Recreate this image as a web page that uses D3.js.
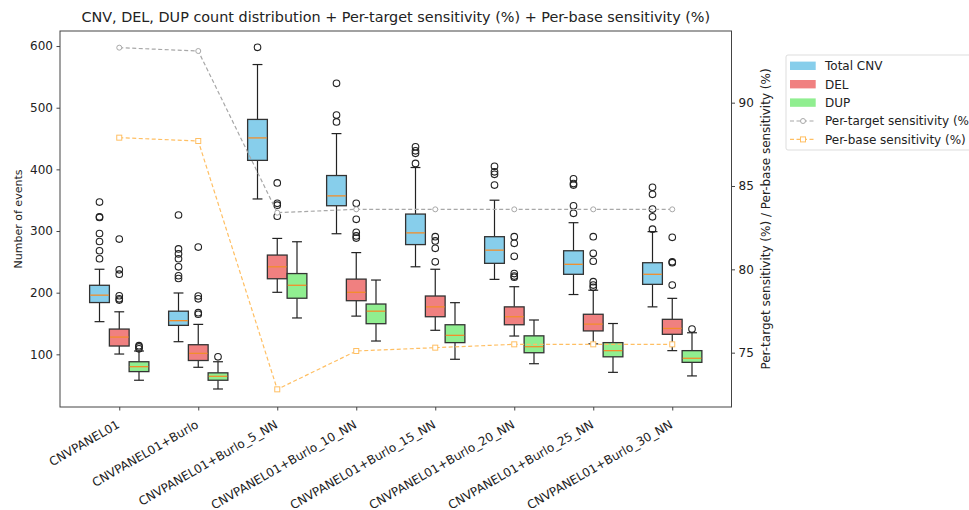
<!DOCTYPE html>
<html>
<head>
<meta charset="utf-8">
<script src="https://cdn.jsdelivr.net/npm/d3@7/dist/d3.min.js"></script>
<style>
  html, body { margin: 0; padding: 0; background: #fff; }
  svg { display: block; font-family: "DejaVu Sans", sans-serif; }
</style>
</head>
<body>
<svg id="chart" width="969" height="510"></svg>
<script>
const categories = ["CNVPANEL01", "CNVPANEL01+Burlo", "CNVPANEL01+Burlo_5_NN", "CNVPANEL01+Burlo_10_NN",
  "CNVPANEL01+Burlo_15_NN", "CNVPANEL01+Burlo_20_NN", "CNVPANEL01+Burlo_25_NN", "CNVPANEL01+Burlo_30_NN"];

// box stats: [whiskerLow, Q1, median, Q3, whiskerHigh]
const totalStats = [
  [153, 184, 196, 212, 238], [120.5, 147, 154.6, 170, 199.5], [352, 414.6, 451, 481, 570],
  [295.6, 341, 357, 390, 458], [242, 278, 297, 327.5, 403], [221.6, 247.6, 269, 290.8, 350],
  [197, 229.8, 246, 268, 313.5], [177, 213.5, 229.8, 248.6, 299]];
const totalOutliers = [
  [255, 268, 283, 296, 322, 323, 347], [223, 227.5, 242, 255, 263, 271, 326], [598],
  [477, 488, 539.5], [409.7, 426, 430, 436.7], [374.6, 392, 396, 405],
  [328.7, 341, 374.6, 377, 384.8], [303, 323, 335.6, 359.5, 370.8]];

const delStats = [
  [100.5, 113.5, 128, 141, 169], [79, 90, 101.6, 115.6, 148.6], [200.6, 222.6, 242, 261, 288],
  [162, 187, 200.6, 222, 265], [139, 161, 177, 194.6, 238], [129.7, 148, 161, 177, 209.7],
  [117, 138, 149, 165, 204], [106, 132.5, 142, 156.8, 190.8]];
const delOutliers = [
  [188, 190, 195, 230, 237, 287], [165, 167.5, 190, 194.6, 274], [324, 342, 345, 378],
  [288.6, 292, 298, 319, 345], [250, 272, 284, 290.8], [225, 227, 231, 259, 280, 290.8],
  [208.7, 212.4, 217.8, 251, 263.8, 290.8], [212.4, 248.6, 250, 289.7]];

const dupStats = [
  [58, 72, 80, 88, 105.4], [43.8, 58, 64.4, 70, 88], [159, 191, 212, 231, 282.6],
  [121.6, 149.7, 170, 181.6, 220.5], [92, 119, 130.8, 148, 183.8], [84.8, 102.6, 112.4, 130, 155.7],
  [70.8, 96, 106, 119, 150], [65, 87, 93.6, 106, 135]];
const dupOutliers = [[109, 112, 114], [96], [], [], [], [], [], [141]];

const perTarget = [93.3, 93.1, 83.4, 83.6, 83.6, 83.6, 83.6, 83.6];
const perBase = [87.9, 87.7, 72.8, 75.1, 75.3, 75.5, 75.5, 75.5];

const leftTicks = [100, 200, 300, 400, 500, 600];
const rightTicks = [75, 80, 85, 90];

const seriesNames = ["Total CNV", "DEL", "DUP"];
const seriesColors = ["#87CEEB", "#F08080", "#90EE90"];
const lineNames = ["Per-target sensitivity (%)", "Per-base sensitivity (%)"];

// ---------- layout ----------
const svg = d3.select("#chart");
svg.append("rect").attr("width", 969).attr("height", 510).attr("fill", "#fff");
const L = 60, R = 731.5, T = 31, B = 407;
const textColor = "#222";
const spineColor = "#444";

const x = d3.scaleLinear().domain([0.25, 8.75]).range([L, R]);
const y = d3.scaleLinear().domain([14.6, 624.4]).range([B, T]);
const y2 = d3.scaleLinear().domain([71.74, 94.3]).range([B, T]);

const boxW = 0.25;
const offsets = [-0.25, 0, 0.25];
const allStats = [totalStats, delStats, dupStats];
const allOut = [totalOutliers, delOutliers, dupOutliers];

const plot = svg.append("g");

allStats.forEach((stats, s) => {
  stats.forEach((st, i) => {
    const cx = x(i + 1 + offsets[s]);
    const hw = (x(boxW) - x(0)) / 2;
    const cw = hw / 2;
    const g = plot.append("g");
    const [lo, q1, med, q3, hi] = st;
    g.append("line").attr("x1", cx).attr("x2", cx).attr("y1", y(q3)).attr("y2", y(hi))
      .attr("stroke", "#222").attr("stroke-width", 1.2);
    g.append("line").attr("x1", cx).attr("x2", cx).attr("y1", y(q1)).attr("y2", y(lo))
      .attr("stroke", "#222").attr("stroke-width", 1.2);
    [lo, hi].forEach(v => g.append("line").attr("x1", cx - cw).attr("x2", cx + cw)
      .attr("y1", y(v)).attr("y2", y(v)).attr("stroke", "#222").attr("stroke-width", 1.2));
    g.append("rect").attr("x", cx - hw).attr("width", 2 * hw)
      .attr("y", y(q3)).attr("height", y(q1) - y(q3))
      .attr("fill", seriesColors[s]).attr("stroke", "#333").attr("stroke-width", 1.3);
    g.append("line").attr("x1", cx - hw + 0.6).attr("x2", cx + hw - 0.6)
      .attr("y1", y(med)).attr("y2", y(med)).attr("stroke", "#F28E2B").attr("stroke-width", 1.3);
    allOut[s][i].forEach(v => g.append("circle").attr("cx", cx).attr("cy", y(v)).attr("r", 3.3)
      .attr("fill", "none").attr("stroke", "#222").attr("stroke-width", 1.1));
  });
});

// sensitivity lines
const lineGen = d3.line().x((d, i) => x(i + 1)).y(d => y2(d));
const gray = "#A8A8A8", orange = "#FFBF63";
plot.append("path").datum(perTarget).attr("d", lineGen).attr("fill", "none")
  .attr("stroke", gray).attr("stroke-width", 1.2).attr("stroke-dasharray", "4,2.5");
plot.selectAll(".pt").data(perTarget).enter().append("circle")
  .attr("cx", (d, i) => x(i + 1)).attr("cy", d => y2(d)).attr("r", 2.5)
  .attr("fill", "#fff").attr("stroke", gray).attr("stroke-width", 1);
plot.append("path").datum(perBase).attr("d", lineGen).attr("fill", "none")
  .attr("stroke", orange).attr("stroke-width", 1.2).attr("stroke-dasharray", "4,2.5");
plot.selectAll(".pb").data(perBase).enter().append("rect")
  .attr("x", (d, i) => x(i + 1) - 2.5).attr("y", d => y2(d) - 2.5)
  .attr("width", 5).attr("height", 5)
  .attr("fill", "#fff").attr("stroke", orange).attr("stroke-width", 1);

// frame
svg.append("rect").attr("x", L).attr("y", T).attr("width", R - L).attr("height", B - T)
  .attr("fill", "none").attr("stroke", spineColor).attr("stroke-width", 1);

// axes
const leftAxis = d3.axisLeft(y).tickValues(leftTicks).tickSize(3.5).tickPadding(3.5).tickFormat(d3.format("d"));
const gl = svg.append("g").attr("transform", `translate(${L},0)`).call(leftAxis);
const rightAxis = d3.axisRight(y2).tickValues(rightTicks).tickSize(3.5).tickPadding(3.5).tickFormat(d3.format("d"));
const gr = svg.append("g").attr("transform", `translate(${R},0)`).call(rightAxis);
const bottomAxis = d3.axisBottom(x).tickValues(d3.range(1, 9)).tickSize(3.5).tickFormat("");
const gb = svg.append("g").attr("transform", `translate(0,${B})`).call(bottomAxis);
[gl, gr, gb].forEach(g => {
  g.select(".domain").remove();
  g.selectAll(".tick line").attr("stroke", spineColor);
  g.selectAll(".tick text").attr("fill", textColor).style("font-size", "12px")
    .style("font-family", "DejaVu Sans");
});

// rotated category labels
svg.append("g").selectAll("text").data(categories).enter().append("text")
  .attr("transform", (d, i) => `translate(${x(i + 1) + 1.2},${B + 20}) rotate(-30)`)
  .attr("text-anchor", "end")
  .attr("fill", textColor).style("font-size", "12px").text(d => d);

// axis labels
svg.append("text").attr("transform", `translate(21.5,${(T + B) / 2}) rotate(-90)`)
  .attr("text-anchor", "middle").attr("fill", textColor).style("font-size", "11px").text("Number of events");
svg.append("text").attr("transform", `translate(769.5,${(T + B) / 2}) rotate(-90)`)
  .attr("text-anchor", "middle").attr("fill", textColor).style("font-size", "12px")
  .text("Per-target sensitivity (%) / Per-base sensitivity (%)");

// title
svg.append("text").attr("x", (L + R) / 2).attr("y", 22).attr("text-anchor", "middle")
  .attr("fill", textColor).style("font-size", "14.4px")
  .text("CNV, DEL, DUP count distribution + Per-target sensitivity (%) + Per-base sensitivity (%)");

// legend
const lg = svg.append("g").attr("transform", "translate(786,55)");
lg.append("rect").attr("x", 0).attr("y", 0).attr("width", 220).attr("height", 95).attr("rx", 2)
  .attr("fill", "#fff").attr("stroke", "#ddd").attr("stroke-width", 1);
const rowY = [10.8, 29.2, 47.6, 66, 84.4];
seriesNames.forEach((n, i) => {
  lg.append("rect").attr("x", 4).attr("y", rowY[i] - 4.2).attr("width", 25.7).attr("height", 8.4)
    .attr("fill", seriesColors[i]);
  lg.append("text").attr("x", 39).attr("y", rowY[i]).attr("dy", "0.36em")
    .attr("fill", textColor).style("font-size", "12px").text(n);
});
lineNames.forEach((n, j) => {
  const ry = rowY[3 + j];
  const col = j === 0 ? gray : orange;
  lg.append("line").attr("x1", 4).attr("x2", 29.7).attr("y1", ry).attr("y2", ry)
    .attr("stroke", col).attr("stroke-width", 1.2).attr("stroke-dasharray", "4,2.5");
  if (j === 0) {
    lg.append("circle").attr("cx", 17).attr("cy", ry).attr("r", 2.5)
      .attr("fill", "#fff").attr("stroke", col);
  } else {
    lg.append("rect").attr("x", 14.5).attr("y", ry - 2.5).attr("width", 5).attr("height", 5)
      .attr("fill", "#fff").attr("stroke", col);
  }
  lg.append("text").attr("x", 39).attr("y", ry).attr("dy", "0.36em")
    .attr("fill", textColor).style("font-size", "12px").text(n);
});
</script>
</body>
</html>
